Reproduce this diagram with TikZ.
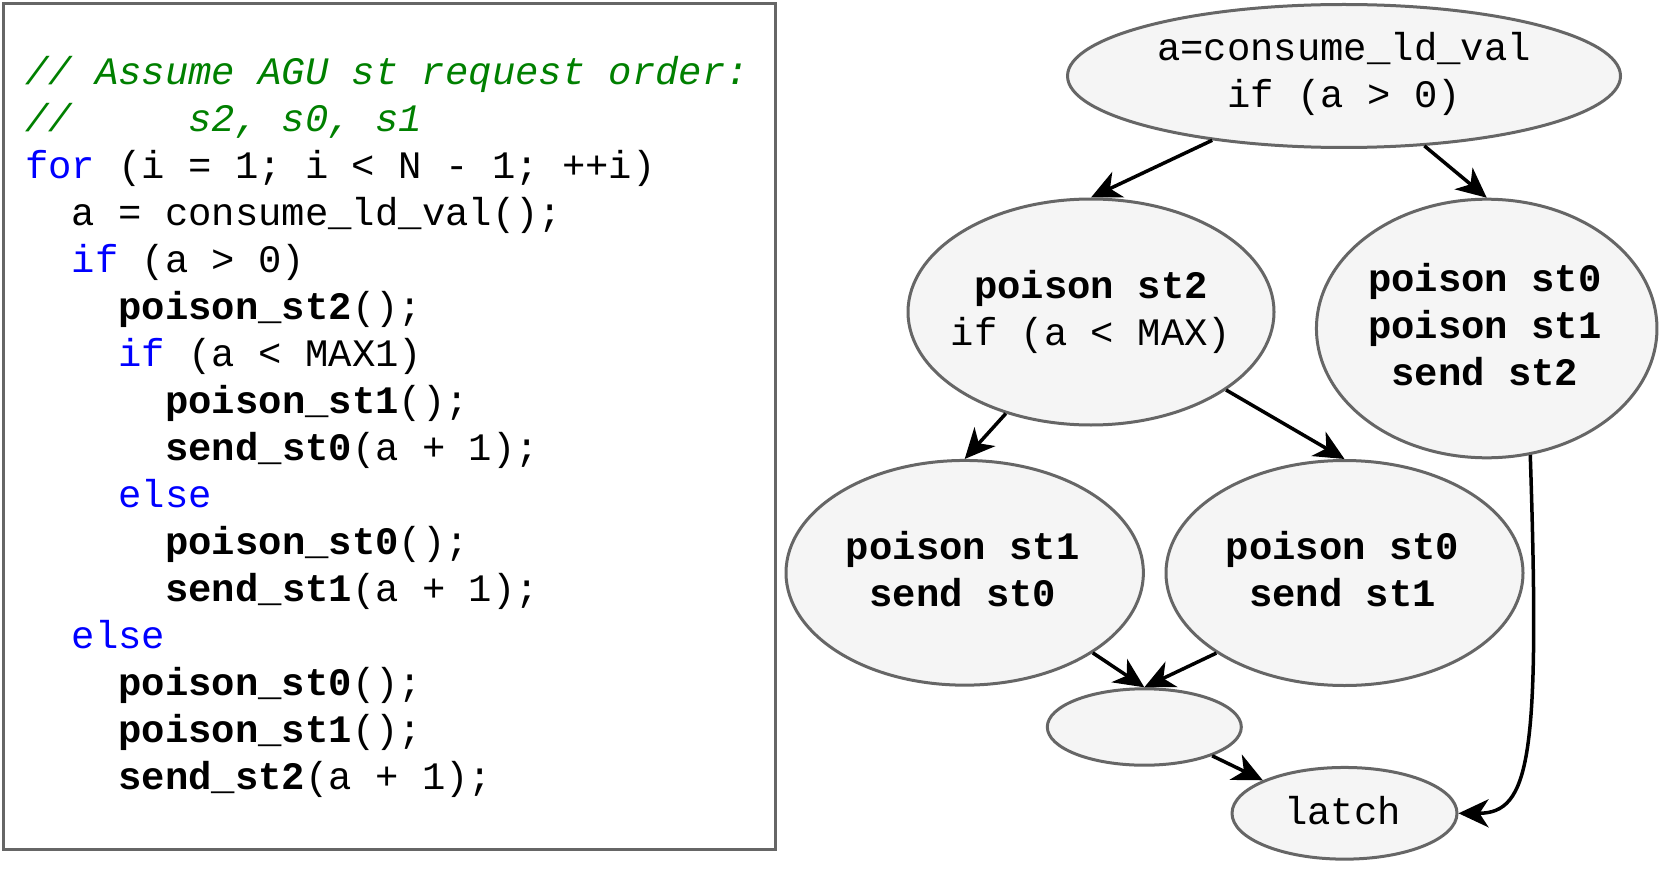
\documentclass[tikz,border=0pt]{standalone}
\usepackage{fontspec}
\setmonofont{Liberation Mono}
\usetikzlibrary{arrows.meta,shapes.geometric}
\definecolor{cmt}{HTML}{008000}
\definecolor{kw}{HTML}{0000FF}
\definecolor{edgegray}{HTML}{666666}
\definecolor{fillgray}{HTML}{F5F5F5}
\begin{document}
\begin{tikzpicture}[x=1pt,y=-1pt,
  codeline/.style={anchor=base west, inner sep=0pt, font=\fontsize{38.9}{47}\selectfont\ttfamily},
  ell/.style={ellipse, draw=edgegray, line width=3pt, fill=fillgray, inner sep=0pt},
  lbl/.style={align=center, inner sep=0pt, font=\fontsize{38.9}{47}\selectfont\ttfamily},
  conn/.style={draw=black, line width=3.5pt, -{Stealth[length=30pt,width=28pt,inset=9pt]}}
]
\useasboundingbox (0,0) rectangle (1661,869);
\fill[white] (0,0) rectangle (1661,869);

% code box
\draw[edgegray, line width=3pt] (3.5,3.5) rectangle (775.5,849.5);

\def\cw{23.35}
\def\xo{25}
\def\ls{46.95}
\node[codeline] (c0)  at (\xo,85)         {\textcolor{cmt}{\itshape // Assume AGU st request order:}};
\node[codeline] (c1)  at (\xo,85+1*\ls)   {\textcolor{cmt}{\itshape //\ \ \ \ \ s2, s0, s1}};
\node[codeline] (c2)  at (\xo,85+2*\ls)   {\textcolor{kw}{for} (i = 1; i < N - 1; ++i)};
\node[codeline] (c3)  at (\xo+2*\cw,85+3*\ls) {a = consume\_ld\_val();};
\node[codeline] (c4)  at (\xo+2*\cw,85+4*\ls) {\textcolor{kw}{if} (a > 0)};
\node[codeline] (c5)  at (\xo+4*\cw,85+5*\ls) {\textbf{poison\_st2}();};
\node[codeline] (c6)  at (\xo+4*\cw,85+6*\ls) {\textcolor{kw}{if} (a < MAX1)};
\node[codeline] (c7)  at (\xo+6*\cw,85+7*\ls) {\textbf{poison\_st1}();};
\node[codeline] (c8)  at (\xo+6*\cw,85+8*\ls) {\textbf{send\_st0}(a + 1);};
\node[codeline] (c9)  at (\xo+4*\cw,85+9*\ls) {\textcolor{kw}{else}};
\node[codeline] (c10) at (\xo+6*\cw,85+10*\ls) {\textbf{poison\_st0}();};
\node[codeline] (c11) at (\xo+6*\cw,85+11*\ls) {\textbf{send\_st1}(a + 1);};
\node[codeline] (c12) at (\xo+2*\cw,85+12*\ls) {\textcolor{kw}{else}};
\node[codeline] (c13) at (\xo+4*\cw,85+13*\ls) {\textbf{poison\_st0}();};
\node[codeline] (c14) at (\xo+4*\cw,85+14*\ls) {\textbf{poison\_st1}();};
\node[codeline] (c15) at (\xo+4*\cw,85+15*\ls) {\textbf{send\_st2}(a + 1);};

% graph nodes
\node[ell, minimum width=553pt, minimum height=143pt,
  label={[lbl,yshift=2pt]center:{a=consume\_ld\_val\\if (a > 0)}}] (top) at (1344,76) {};
\node[ell, minimum width=366pt, minimum height=226pt,
  label={[lbl]center:{\textbf{poison st2}\\if (a < MAX)}}] (st2) at (1091,312) {};
\node[ell, minimum width=340.5pt, minimum height=258.6pt,
  label={[lbl,yshift=3.5pt,xshift=-2pt]center:{\bfseries poison st0\\\bfseries poison st1\\\bfseries send st2}}] (right) at (1486.7,328.5) {};
\node[ell, minimum width=357.4pt, minimum height=224.7pt,
  label={[lbl,yshift=4pt,xshift=-2pt]center:{\bfseries poison st1\\\bfseries send st0}}] (bl) at (964.7,572.8) {};
\node[ell, minimum width=357pt, minimum height=225pt,
  label={[lbl,yshift=4pt,xshift=-2pt]center:{\bfseries poison st0\\\bfseries send st1}}] (br) at (1344.5,573) {};
\node[ell, minimum width=194pt, minimum height=76.4pt] (empty) at (1144.3,727) {};
\node[ell, minimum width=225pt, minimum height=91.7pt,
  label={[lbl,yshift=3pt,xshift=-2pt]center:{latch}}] (latch) at (1344.5,813.3) {};

% connectors
\draw[conn] (top.206) -- (st2.north);
\draw[conn] (top.-41) -- (right.north);
\draw[conn] (st2.230) -- (bl.north);
\draw[conn] (st2.-30.5) -- (br.north);
\draw[conn] (bl.-32) -- (empty.north);
\draw[conn] (br.212) -- (empty.north);
\draw[conn] (empty.-23.6) -- (latch.158);
\draw[conn] (right.-71) .. controls +(10,303) and +(71.5,0) .. (latch.east);
\end{tikzpicture}
\end{document}
